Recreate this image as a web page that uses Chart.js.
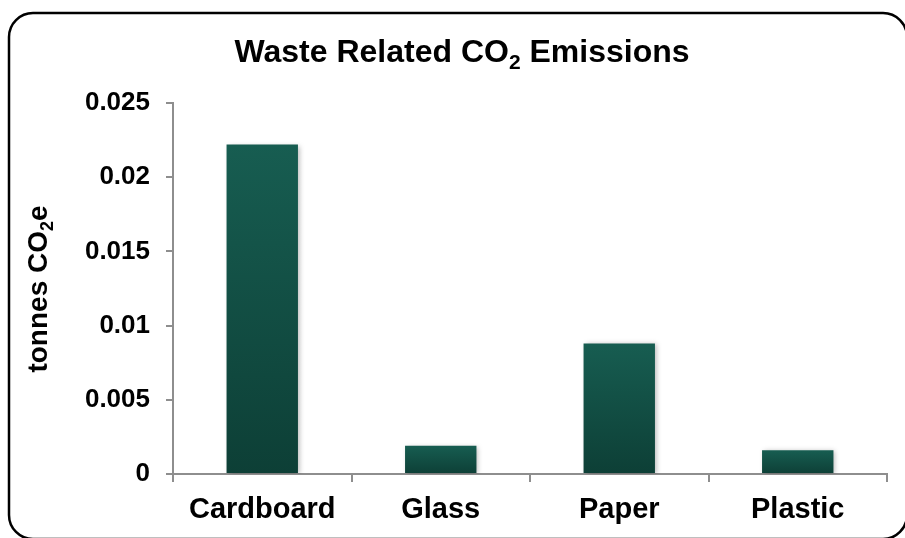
<!DOCTYPE html>
<html>
<head>
<meta charset="utf-8">
<script src="https://cdn.jsdelivr.net/npm/chart.js@4/dist/chart.umd.min.js"></script>
<style>
  html, body { margin: 0; padding: 0; background: #fff; }
  #wrap { width: 905px; height: 538px; }
</style>
</head>
<body>
<div id="wrap"><canvas id="grafico" width="905" height="538"></canvas></div>
<script>
// dados
const categorias = ['Cardboard', 'Glass', 'Paper', 'Plastic'];
const emissoes = [0.0222, 0.0019, 0.0088, 0.0016];
const ticksY = [0, 0.005, 0.01, 0.015, 0.02, 0.025];

const FONTE = '"Liberation Sans", Arial, sans-serif';
const COR_TOPO = '#175d51';
const COR_BASE = '#0d3f36';
const COR_EIXO = '#8e8e8e';

// desenha texto com subscrito "2" (CO2)
function textoComSub(ctx, partes, x, y, tam, alinhamento) {
  const sub = Math.round(tam * 0.65);
  let total = 0;
  partes.forEach(p => {
    ctx.font = `bold ${p.sub ? sub : tam}px ${FONTE}`;
    p.w = ctx.measureText(p.t).width;
    total += p.w;
  });
  let cx = alinhamento === 'center' ? x - total / 2 : x;
  partes.forEach(p => {
    ctx.font = `bold ${p.sub ? sub : tam}px ${FONTE}`;
    ctx.fillText(p.t, cx, p.sub ? y + tam * 0.22 : y);
    cx += p.w;
  });
}

const moldura = {
  id: 'moldura',
  beforeDraw(chart) {
    const ctx = chart.ctx;
    ctx.save();
    ctx.fillStyle = '#fff';
    ctx.fillRect(0, 0, chart.width, chart.height);
    ctx.strokeStyle = '#000';
    ctx.lineWidth = 2.5;
    ctx.beginPath();
    ctx.roundRect(9, 13, 898, 526, 24);
    ctx.stroke();
    ctx.restore();
  },
  afterDraw(chart) {
    const ctx = chart.ctx;
    ctx.save();
    ctx.fillStyle = '#000';
    ctx.textBaseline = 'alphabetic';
    textoComSub(ctx, [{ t: 'Waste Related CO' }, { t: '2', sub: true }, { t: ' Emissions' }],
      462, 62, 32, 'center');
    ctx.translate(47, 289);
    ctx.rotate(-Math.PI / 2);
    textoComSub(ctx, [{ t: 'tonnes CO' }, { t: '2', sub: true }, { t: 'e' }],
      0, 0, 28, 'center');
    ctx.restore();
  }
};

const sombra = {
  id: 'sombra',
  beforeDatasetDraw(chart) {
    const ctx = chart.ctx;
    ctx.save();
    ctx.shadowColor = 'rgba(0,0,0,0.28)';
    ctx.shadowBlur = 5;
    ctx.shadowOffsetX = 2;
    ctx.shadowOffsetY = 1;
  },
  afterDatasetDraw(chart) {
    chart.ctx.restore();
  }
};

function gradienteBarra(context) {
  const chart = context.chart;
  const area = chart.chartArea;
  if (!area || context.dataIndex == null) return COR_TOPO;
  const topo = chart.scales.y.getPixelForValue(emissoes[context.dataIndex]);
  const g = chart.ctx.createLinearGradient(0, topo, 0, area.bottom);
  g.addColorStop(0, COR_TOPO);
  g.addColorStop(1, COR_BASE);
  return g;
}

new Chart(document.getElementById('grafico'), {
  type: 'bar',
  data: {
    labels: categorias,
    datasets: [{
      data: emissoes,
      backgroundColor: gradienteBarra,
      borderWidth: 0,
      barPercentage: 0.8,
      categoryPercentage: 0.5
    }]
  },
  options: {
    responsive: false,
    animation: false,
    devicePixelRatio: 1,
    layout: { padding: { top: 103, right: 18, left: 0, bottom: 0 } },
    plugins: { legend: { display: false }, title: { display: false }, tooltip: { enabled: false } },
    scales: {
      x: {
        grid: { offset: true, drawOnChartArea: false, color: COR_EIXO, lineWidth: 2, tickLength: 8 },
        border: { color: COR_EIXO, width: 2 },
        ticks: { color: '#000', font: { family: FONTE, size: 29, weight: 'bold' }, padding: 11 },
        afterFit(scale) { scale.height = 64; }
      },
      y: {
        min: 0,
        max: 0.025,
        afterBuildTicks(scale) { scale.ticks = ticksY.map(v => ({ value: v })); },
        grid: { drawOnChartArea: false, color: COR_EIXO, lineWidth: 2, tickLength: 7 },
        border: { color: COR_EIXO, width: 2 },
        ticks: {
          color: '#000',
          font: { family: FONTE, size: 26, weight: 'bold' },
          padding: 16,
          callback: v => String(+v.toFixed(3))
        },
        afterFit(scale) { scale.width = 173; }
      }
    }
  },
  plugins: [moldura, sombra]
});
</script>
</body>
</html>
